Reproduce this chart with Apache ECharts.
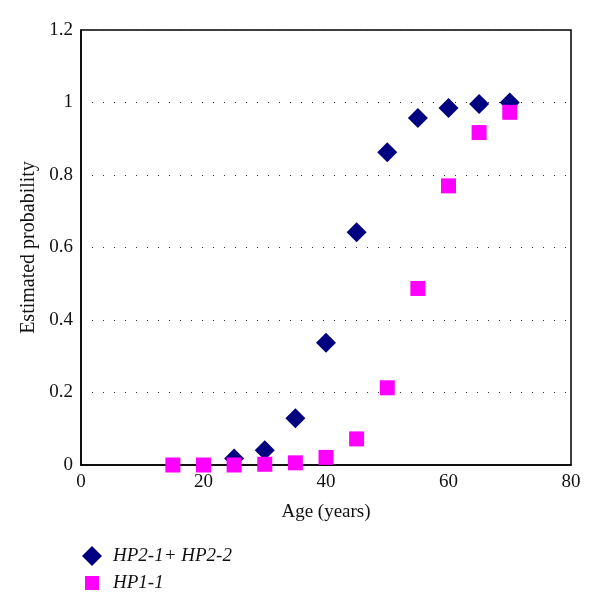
<!DOCTYPE html>
<html>
<head>
<meta charset="utf-8">
<script src="https://cdn.jsdelivr.net/npm/echarts@6/dist/echarts.min.js"></script>
<style>html,body{margin:0;padding:0;background:#fff}#c{width:600px;height:615px}</style>
</head>
<body>
<div id="c"></div>
<script>
var ages = [15, 20, 25, 30, 35, 40, 45, 50, 55, 60, 65, 70];
var hp2Ages = [25, 30, 35, 40, 45, 50, 55, 60, 65, 70];
var hp2Values = [0.018, 0.041, 0.129, 0.337, 0.642, 0.863, 0.957, 0.985, 0.996, 1.0];
var hp11Values = [0.0, 0.0, 0.0, 0.002, 0.006, 0.021, 0.072, 0.213, 0.487, 0.770, 0.917, 0.973];
var seriesNames = ['HP2-1+ HP2-2', 'HP1-1'];

var font = 'Liberation Serif';
var chart = echarts.init(document.getElementById('c'));
chart.setOption({
  animation: false,
  backgroundColor: '#fff',
  grid: { left: 81, top: 30, right: 29, bottom: 150, show: true, borderColor: '#000', borderWidth: 1.5 },
  xAxis: {
    type: 'value', min: 0, max: 80, interval: 20,
    name: 'Age (years)', nameLocation: 'middle', nameGap: 38,
    nameTextStyle: { fontFamily: font, fontSize: 19, color: '#111' },
    axisLine: { show: true, lineStyle: { color: '#000', width: 1.5 } },
    axisTick: { show: false },
    axisLabel: { fontFamily: font, fontSize: 19, color: '#111', margin: 8 },
    splitLine: { show: false }
  },
  yAxis: {
    type: 'value', min: 0, max: 1.2, interval: 0.2,
    name: 'Estimated probability', nameLocation: 'middle', nameGap: 40,
    nameTextStyle: { fontFamily: font, fontSize: 20, color: '#111' },
    axisLine: { show: true, lineStyle: { color: '#000', width: 1.5 } },
    axisTick: { show: false },
    axisLabel: { fontFamily: font, fontSize: 19, color: '#111', margin: 8,
      formatter: function (v) { return String(Math.round(v * 10) / 10); } },
    splitLine: { show: true, lineStyle: { color: '#333', width: 1, type: [1, 10] } }
  },
  legend: {
    orient: 'vertical', left: 77, top: 541, itemGap: 7,
    itemWidth: 20, itemHeight: 20,
    textStyle: { fontFamily: font, fontSize: 19, fontStyle: 'italic', color: '#111', padding: [0, 0, 0, 6] },
    data: [
      { name: seriesNames[0], icon: 'diamond' },
      { name: seriesNames[1], icon: 'path://M0,0M20,20M3,3L17,3L17,17L3,17Z', itemStyle: { color: '#ff00ff' } }
    ]
  },
  series: [
    {
      name: seriesNames[0], type: 'scatter', symbol: 'diamond', symbolSize: 20,
      itemStyle: { color: '#000080', opacity: 1 },
      data: hp2Ages.map(function (a, i) { return [a, hp2Values[i]]; })
    },
    {
      name: seriesNames[1], type: 'scatter', symbol: 'rect', symbolSize: 15,
      itemStyle: { color: '#ff00ff', opacity: 1 },
      data: ages.map(function (a, i) { return [a, hp11Values[i]]; })
    }
  ]
});
</script>
</body>
</html>
